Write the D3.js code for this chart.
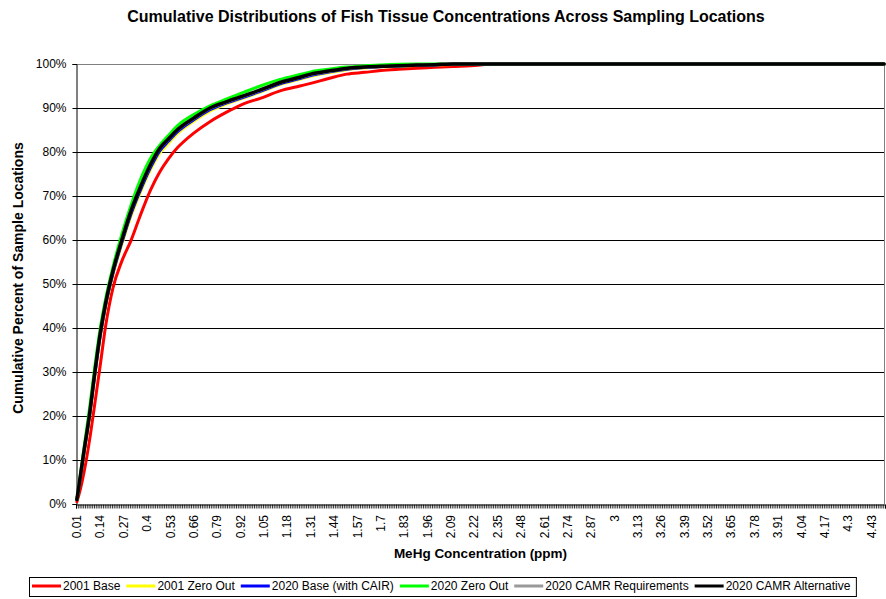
<!DOCTYPE html>
<html>
<head>
<meta charset="utf-8">
<script src="https://cdn.jsdelivr.net/npm/d3@7"></script>
<style>
    body { margin: 0; background: #fff; }
    svg { font-family: Arial, "Liberation Sans", sans-serif; }
</style>
</head>
<body>
<div id="chart"></div>
<script>
// MeHg concentration (ppm) where the curves were read
const conc = [0.01, 0.03, 0.05, 0.08, 0.11, 0.14, 0.17, 0.21, 0.26, 0.31, 0.36, 0.42, 0.47, 0.52, 0.57, 0.66, 0.75, 0.84, 0.94, 1.03, 1.14, 1.25, 1.31, 1.41, 1.51, 1.61, 1.70, 1.80, 1.90, 2.00, 2.10, 2.20, 2.33, 2.50, 3.00, 4.50];

// cumulative percent of sample locations
const base2001 = [0.5, 3.5, 7.3, 14.4, 22.9, 31.6, 40.5, 49, 55.2, 59.8, 65.3, 71.4, 75.4, 78.5, 81, 84.3, 86.9, 89, 91, 92.2, 93.9, 95, 95.6, 96.7, 97.7, 98.1, 98.5, 98.8, 99.05, 99.25, 99.45, 99.6, 100, 100, 100, 100];
const zeroOut2001 = [1, 6.2, 11.6, 19.7, 29.2, 38, 44.9, 52, 59, 65.3, 70.5, 76, 79.7, 82, 84.2, 87, 89.3, 90.9, 92.3, 93.6, 95.3, 96.5, 97.2, 98, 98.7, 99.1, 99.35, 99.5, 99.65, 99.8, 99.9, 100, 100, 100, 100, 100];
const base2020 = [1, 6.3, 11.8, 20, 29.5, 38.3, 45.2, 52.3, 59.4, 65.8, 71, 76.5, 80.2, 82.5, 84.6, 87.3, 89.6, 91.1, 92.5, 93.8, 95.5, 96.7, 97.4, 98.2, 98.8, 99.2, 99.4, 99.55, 99.7, 99.8, 99.95, 100, 100, 100, 100, 100];
const zeroOut2020 = [1, 7, 12.9, 21.7, 31.4, 40, 46.7, 53.8, 61.3, 67.8, 73.4, 78.6, 81.5, 83.8, 86, 88.5, 90.5, 92, 93.6, 95, 96.5, 97.6, 98.2, 98.8, 99.3, 99.6, 99.8, 99.95, 100, 100, 100, 100, 100, 100, 100, 100];
const camrReq2020 = [1, 6.5, 12.1, 20.2, 29.9, 38.7, 45.6, 52.8, 59.9, 66.4, 71.6, 77.1, 80.7, 82.9, 85, 87.6, 89.9, 91.3, 92.7, 94, 95.7, 96.9, 97.6, 98.3, 98.9, 99.25, 99.45, 99.6, 99.75, 99.85, 100, 100, 100, 100, 100, 100];
const camrAlt2020 = [1, 6.6, 12.2, 20.3, 30, 38.8, 45.7, 52.9, 60, 66.5, 71.7, 77.2, 80.8, 83, 85.1, 87.7, 90, 91.4, 92.8, 94.1, 95.8, 97, 97.7, 98.4, 99, 99.3, 99.5, 99.6, 99.75, 99.85, 100, 100, 100, 100, 100, 100];

const seriesNames = ['2001 Base', '2001 Zero Out', '2020 Base (with CAIR)', '2020 Zero Out', '2020 CAMR Requirements', '2020 CAMR Alternative'];
const seriesColors = ['#ff0000', '#ffff00', '#0000ff', '#00ff00', '#999999', '#000000'];
const seriesValues = [base2001, zeroOut2001, base2020, zeroOut2020, camrReq2020, camrAlt2020];

const xTickLabels = ['0.01', '0.14', '0.27', '0.4', '0.53', '0.66', '0.79', '0.92', '1.05', '1.18', '1.31', '1.44', '1.57', '1.7', '1.83', '1.96', '2.09', '2.22', '2.35', '2.48', '2.61', '2.74', '2.87', '3', '3.13', '3.26', '3.39', '3.52', '3.65', '3.78', '3.91', '4.04', '4.17', '4.3', '4.43'];
const yTicks = [0, 10, 20, 30, 40, 50, 60, 70, 80, 90, 100];

const width = 886;
const height = 599;
const plot = { left: 76, right: 885, top: 64, bottom: 504 };

const series = seriesNames.map((name, i) => ({
    name,
    color: seriesColors[i],
    points: conc.map((c, j) => ({ c, v: seriesValues[i][j] }))
}));

const svg = d3.select('#chart').append('svg')
    .attr('width', width)
    .attr('height', height);

svg.append('rect')
    .attr('width', width)
    .attr('height', height)
    .attr('fill', '#fff');

// category axis: 450 categories from 0.01 to 4.50
const x = d3.scaleLinear().domain([0.005, 4.505]).range([plot.left, plot.right]);
const y = d3.scaleLinear().domain([0, 100]).range([plot.bottom, plot.top]);

// gridlines
svg.append('g')
    .selectAll('line')
    .data(yTicks.filter(d => d > 0 && d < 100))
    .enter().append('line')
    .attr('x1', plot.left)
    .attr('x2', plot.right)
    .attr('y1', d => Math.round(y(d)) + 0.5)
    .attr('y2', d => Math.round(y(d)) + 0.5)
    .attr('stroke', '#000')
    .attr('stroke-width', 1);

// plot area border (top / right)
svg.append('path')
    .attr('d', `M${plot.left},${plot.top + 0.5}H${plot.right - 0.5}V${plot.bottom}`)
    .attr('fill', 'none')
    .attr('stroke', '#808080')
    .attr('stroke-width', 1);

// y axis
const yAxis = svg.append('g')
    .attr('transform', `translate(${plot.left + 0.5},0)`)
    .call(d3.axisLeft(y).tickValues(yTicks).tickSize(4).tickPadding(6).tickFormat(d => d + '%'));
yAxis.select('.domain').attr('stroke', '#000');
yAxis.selectAll('text').attr('font-size', 12).attr('fill', '#000').attr('font-family', 'Arial, "Liberation Sans", sans-serif');

// x axis: tick marks between every category
const boundaries = d3.range(0, 451).map(i => 0.005 + i * 0.01);
const xAxis = svg.append('g')
    .attr('transform', `translate(0,${plot.bottom + 0.5})`)
    .call(d3.axisBottom(x).tickValues(boundaries).tickSize(4).tickFormat(''));
xAxis.select('.domain').attr('stroke', '#000');
xAxis.selectAll('.tick line').attr('stroke', '#000').attr('stroke-width', 0.8);

svg.append('g')
    .selectAll('text')
    .data(xTickLabels)
    .enter().append('text')
    .attr('transform', d => `translate(${x(+d)},${plot.bottom + 11}) rotate(-90)`)
    .attr('text-anchor', 'end')
    .attr('dy', '0.35em')
    .attr('font-size', 12)
    .attr('fill', '#000')
    .text(d => d);

// curves
const line = d3.line()
    .curve(d3.curveMonotoneX)
    .x(d => x(d.c))
    .y(d => y(d.v));

svg.append('g')
    .selectAll('path')
    .data(series)
    .enter().append('path')
    .attr('d', d => line(d.points))
    .attr('fill', 'none')
    .attr('stroke', d => d.color)
    .attr('stroke-width', d => d.color === '#000000' ? 3.5 : 3)
    .attr('stroke-linejoin', 'round')
    .attr('stroke-linecap', 'round');

// titles
svg.append('text')
    .attr('x', 446)
    .attr('y', 22)
    .attr('text-anchor', 'middle')
    .attr('font-size', 16)
    .attr('font-weight', 'bold')
    .text('Cumulative Distributions of Fish Tissue Concentrations Across Sampling Locations');

svg.append('text')
    .attr('x', (plot.left + plot.right) / 2)
    .attr('y', 558)
    .attr('text-anchor', 'middle')
    .attr('font-size', 13.5)
    .attr('font-weight', 'bold')
    .text('MeHg Concentration (ppm)');

svg.append('text')
    .attr('transform', `translate(23,278) rotate(-90)`)
    .attr('text-anchor', 'middle')
    .attr('font-size', 14)
    .attr('font-weight', 'bold')
    .text('Cumulative Percent of Sample Locations');

// legend
const legend = svg.append('g');
const legendBox = legend.append('rect')
    .attr('y', 577.5)
    .attr('height', 19)
    .attr('fill', '#fff')
    .attr('stroke', '#000')
    .attr('stroke-width', 1);

let lx = 32;
series.forEach(s => {
    legend.append('line')
        .attr('x1', lx)
        .attr('x2', lx + 29)
        .attr('y1', 586)
        .attr('y2', 586)
        .attr('stroke', s.color)
        .attr('stroke-width', 3);
    const t = legend.append('text')
        .attr('x', lx + 31)
        .attr('y', 590)
        .attr('font-size', 12)
        .text(s.name);
    lx += 31 + t.node().getComputedTextLength() + 6;
});
legendBox.attr('x', 29.5).attr('width', lx - 29.5);
</script>
</body>
</html>
